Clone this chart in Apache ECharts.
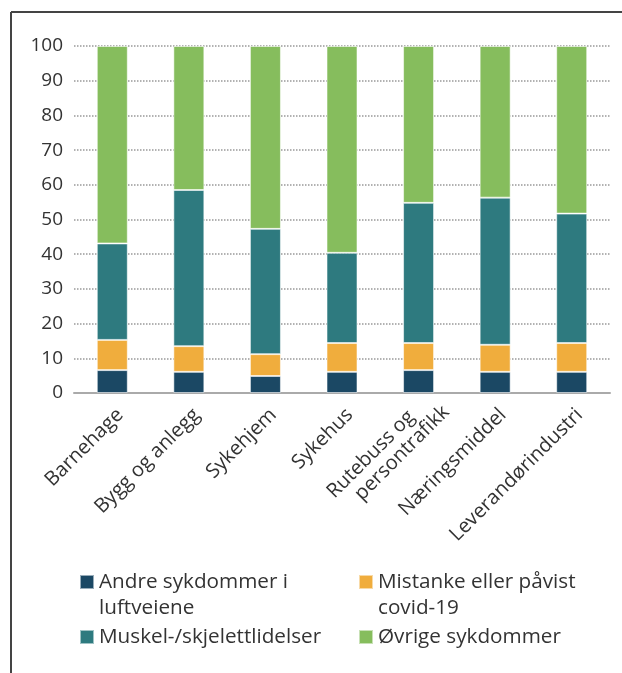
<!DOCTYPE html>
<html>
<head>
<meta charset="utf-8">
<script src="https://cdn.jsdelivr.net/npm/echarts@6/dist/echarts.min.js"></script>
<style>
  html, body { margin: 0; padding: 0; background: #fff; }
  #chart { width: 622px; height: 673px; }
</style>
</head>
<body>
<div id="chart"></div>
<script>
// kategorier og andeler (prosent)
const categories = ['Barnehage', 'Bygg og anlegg', 'Sykehjem', 'Sykehus',
  'Rutebuss og\npersontrafikk', 'Næringsmiddel', 'Leverandørindustri'];
const andre    = [6.6, 6.1, 4.9, 6.1, 6.6, 6.1, 6.1];
const mistanke = [8.7, 7.4, 6.3, 8.3, 7.8, 7.8, 8.3];
const muskel   = [27.8, 45.0, 36.1, 26.0, 40.4, 42.4, 37.3];
const ovrige   = [56.9, 41.5, 52.7, 59.6, 45.2, 43.7, 48.3];

const names = ['Andre sykdommer i luftveiene', 'Mistanke eller påvist covid-19',
  'Muskel-/skjelettlidelser', 'Øvrige sykdommer'];
const colors = ['#1b4864', '#f0ad3d', '#2e7a7f', '#86bd5d'];

const font = '"Open Sans", "Noto Sans", sans-serif';

function bar(name, data, color) {
  return {
    name: name,
    type: 'bar',
    stack: 'total',
    barWidth: 31,
    data: data,
    itemStyle: { color: color, borderColor: 'rgba(255,255,255,0.55)', borderWidth: 1 }
  };
}

// legend text: blank first line keeps the icon on the first text line
function legendLabel(name) {
  if (name === names[0]) return ' \nAndre sykdommer i\nluftveiene';
  if (name === names[1]) return ' \nMistanke eller påvist\ncovid-19';
  return name;
}

// two-line category label: first line ends earlier, like the original
function catLabel(value) {
  if (value.indexOf('\n') < 0) return value;
  const parts = value.split('\n');
  return '{a|' + parts[0] + '}\n{b|' + parts[1] + '}';
}

// multi-line category gets its own offsets
const xData = categories.map(function (c) {
  if (c.indexOf('\n') < 0) return c;
  return { value: c, textStyle: { padding: [25, -16, 0, 0] } };
});

const legendBase = {
  orient: 'vertical',
  icon: 'rect',
  padding: 0,
  itemWidth: 14,
  itemHeight: 14,
  itemGap: 3,
  formatter: legendLabel,
  textStyle: { fontFamily: font, fontSize: 20.7, color: '#333', lineHeight: 26 }
};

const richLine = { fontFamily: font, fontSize: 20, color: '#333', lineHeight: 21 };

let chart = echarts.init(document.getElementById('chart'));
chart.setOption({
  animation: false,
  textStyle: { fontFamily: font },
  grid: { left: 74, right: 12, top: 46, bottom: 280 },
  legend: [
    Object.assign({}, legendBase, { left: 79, top: 543, data: [names[0], names[2]] }),
    Object.assign({}, legendBase, { left: 358, top: 543, data: [names[1], names[3]] })
  ],
  xAxis: {
    type: 'category',
    data: xData,
    axisLine: { lineStyle: { color: '#aaa', width: 2 } },
    axisTick: { show: false },
    axisLabel: {
      rotate: 45, margin: 11, interval: 0,
      fontSize: 20, color: '#333', fontFamily: font, lineHeight: 21,
      padding: [22, 0, 0, 0],
      formatter: catLabel,
      rich: {
        a: Object.assign({ padding: [0, 28, 0, 0] }, richLine),
        b: Object.assign({}, richLine)
      }
    }
  },
  yAxis: {
    type: 'value',
    min: 0,
    max: 100,
    interval: 10,
    axisLine: { show: false },
    axisTick: { show: false },
    axisLabel: { margin: 11, fontSize: 19, color: '#333', fontFamily: font },
    splitLine: { lineStyle: { type: 'dotted', color: '#999', width: 1.5 } }
  },
  series: [
    bar(names[0], andre, colors[0]),
    bar(names[1], mistanke, colors[1]),
    bar(names[2], muskel, colors[2]),
    bar(names[3], ovrige, colors[3])
  ],
  graphic: [
    { type: 'line', shape: { x1: 11, y1: 12, x2: 622, y2: 12 }, style: { stroke: '#444', lineWidth: 2 } },
    { type: 'line', shape: { x1: 11, y1: 12, x2: 11, y2: 673 }, style: { stroke: '#444', lineWidth: 2 } }
  ]
});
</script>
</body>
</html>
